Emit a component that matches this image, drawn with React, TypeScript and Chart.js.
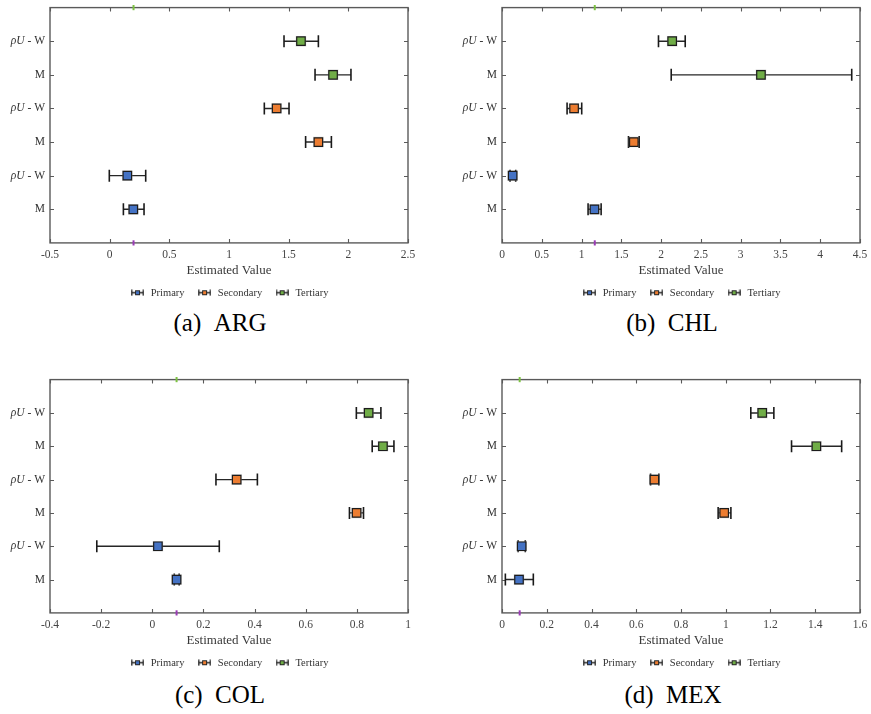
import React, { useEffect, useRef } from 'react';
import { Chart, registerables } from 'chart.js';

Chart.register(...registerables);

const FONT = "'Liberation Serif', 'Times New Roman', serif";

// ---- shared categories ----
const SERIES = ['Primary', 'Secondary', 'Tertiary'];
const SERIES_COLORS = ['#4472C4', '#ED7D31', '#70AD47'];
// rows from bottom to top
const ROW_LABELS = ['M', 'ρU - W', 'M', 'ρU - W', 'M', 'ρU - W'];
const ROW_SERIES = [0, 0, 1, 1, 2, 2];

// ---- ARG ----
const ARG_EST = [0.198, 0.148, 1.749, 1.399, 1.872, 1.603];
const ARG_LO = [0.115, -0.003, 1.642, 1.296, 1.721, 1.461];
const ARG_HI = [0.288, 0.302, 1.858, 1.503, 2.022, 1.749];
const ARG_REF = 0.2;
const ARG_AXIS = [-0.5, 2.5, 0.5];

// ---- CHL ----
const CHL_EST = [1.162, 0.134, 1.657, 0.906, 3.255, 2.139];
const CHL_LO = [1.082, 0.101, 1.59, 0.818, 2.127, 1.967];
const CHL_HI = [1.246, 0.172, 1.724, 1.002, 4.396, 2.303];
const CHL_REF = 1.166;
const CHL_AXIS = [0, 4.5, 0.5];

// ---- COL ----
const COL_EST = [0.095, 0.022, 0.799, 0.33, 0.902, 0.846];
const COL_LO = [0.086, -0.217, 0.771, 0.249, 0.86, 0.798];
const COL_HI = [0.105, 0.262, 0.826, 0.411, 0.945, 0.894];
const COL_REF = 0.095;
const COL_AXIS = [-0.4, 1, 0.2];

// ---- MEX ----
const MEX_EST = [0.076, 0.088, 0.993, 0.681, 1.405, 1.163];
const MEX_LO = [0.015, 0.072, 0.966, 0.664, 1.294, 1.112];
const MEX_HI = [0.14, 0.104, 1.023, 0.701, 1.518, 1.215];
const MEX_REF = 0.079;
const MEX_AXIS = [0, 1.6, 0.2];

const FRAME_COLOR = '#5a5a5a';
const BAR_COLOR = '#262626';

function makeIcon(color: string) {
  const c = document.createElement('canvas');
  c.width = 13;
  c.height = 7;
  const g = c.getContext('2d')!;
  g.strokeStyle = BAR_COLOR;
  g.lineWidth = 1.3;
  g.beginPath();
  g.moveTo(0.6, 3.5);
  g.lineTo(12.4, 3.5);
  g.moveTo(0.8, 0.5);
  g.lineTo(0.8, 6.5);
  g.moveTo(12.2, 0.5);
  g.lineTo(12.2, 6.5);
  g.stroke();
  g.fillStyle = color;
  g.fillRect(4.5, 1.5, 4, 4);
  g.lineWidth = 1;
  g.strokeRect(4.5, 1.5, 4, 4);
  return c;
}

function fmtTick(v: any) {
  let n = Math.round(Number(v) * 1000) / 1000;
  if (Math.abs(n) < 1e-9) n = 0;
  return String(n);
}

const framePlugin = {
  id: 'frameTicks',
  beforeDatasetsDraw(chart: any) {
    const { ctx, chartArea, scales } = chart;
    const { left, right, top, bottom } = chartArea;
    ctx.save();
    ctx.strokeStyle = FRAME_COLOR;
    ctx.lineWidth = 1.4;
    ctx.strokeRect(left, top, right - left, bottom - top);
    ctx.lineWidth = 1.1;
    ctx.beginPath();
    const xs = scales.x;
    xs.ticks.forEach((t: any) => {
      const px = Math.round(xs.getPixelForValue(t.value)) + 0.5;
      ctx.moveTo(px, bottom);
      ctx.lineTo(px, bottom - 4);
      ctx.moveTo(px, top);
      ctx.lineTo(px, top + 4);
    });
    const ys = scales.y;
    ROW_LABELS.forEach((_, i) => {
      const py = Math.round(ys.getPixelForValue(i + 1)) + 0.5;
      ctx.moveTo(left, py);
      ctx.lineTo(left + 4, py);
      ctx.moveTo(right, py);
      ctx.lineTo(right - 4, py);
    });
    ctx.stroke();

    // row labels
    ctx.fillStyle = '#333333';
    ctx.textBaseline = 'middle';
    ctx.textAlign = 'left';
    ROW_LABELS.forEach((lab, i) => {
      const py = ys.getPixelForValue(i + 1);
      const xEnd = left - 5;
      if (lab.startsWith('ρU')) {
        const rest = lab.slice(2);
        ctx.font = `italic 11.5px ${FONT}`;
        const w1 = ctx.measureText('ρU').width;
        ctx.font = `11.5px ${FONT}`;
        const w2 = ctx.measureText(rest).width;
        const x0 = xEnd - w1 - w2;
        ctx.font = `italic 11.5px ${FONT}`;
        ctx.fillText('ρU', x0, py);
        ctx.font = `11.5px ${FONT}`;
        ctx.fillText(rest, x0 + w1, py);
      } else {
        ctx.font = `11.5px ${FONT}`;
        const w = ctx.measureText(lab).width;
        ctx.fillText(lab, xEnd - w, py);
      }
    });
    ctx.restore();
  },
};

type PanelProps = {
  est: number[];
  lo: number[];
  hi: number[];
  refVal: number;
  axis: number[];
  left: number;
  top: number;
  width: number;
  height: number;
  padLeft: number;
  padRight: number;
};

function Panel(p: PanelProps) {
  const ref = useRef<HTMLCanvasElement>(null);
  useEffect(() => {
    if (!ref.current) return;
    const icons = SERIES_COLORS.map(makeIcon);
    const datasets: any[] = [];
    SERIES.forEach((name, s) => {
      const pts: any[] = [];
      ROW_SERIES.forEach((rs, i) => {
        if (rs === s) pts.push({ x: p.est[i], y: i + 1 });
      });
      datasets.push({
        type: 'scatter',
        label: name,
        data: pts,
        pointStyle: 'rect',
        pointRadius: 6,
        pointHoverRadius: 6,
        backgroundColor: SERIES_COLORS[s],
        borderColor: '#1c1c1c',
        borderWidth: 1.2,
        order: 0,
      });
    });
    // soft halo behind the squares
    datasets.push({
      type: 'scatter',
      label: '',
      data: p.est.map((v, i) => ({ x: v, y: i + 1 })),
      pointStyle: 'rect',
      pointRadius: 7.4,
      pointHoverRadius: 7.4,
      backgroundColor: 'rgba(150,150,150,0.45)',
      borderWidth: 0,
      order: 1,
    });
    p.est.forEach((_, i) => {
      datasets.push({
        type: 'line',
        label: '',
        data: [
          { x: p.lo[i], y: i + 1 },
          { x: p.hi[i], y: i + 1 },
        ],
        borderColor: BAR_COLOR,
        borderWidth: 1.4,
        pointStyle: 'line',
        pointRotation: 90,
        pointRadius: 6,
        pointHoverRadius: 6,
        pointBorderWidth: 1.6,
        pointBorderColor: '#1a1a1a',
        fill: false,
        order: 2,
      });
    });
    datasets.push({
      type: 'scatter',
      label: '',
      data: [{ x: p.refVal, y: 7 }],
      pointStyle: 'line',
      pointRotation: 90,
      pointRadius: 2.6,
      borderColor: '#7cc242',
      borderWidth: 2,
      clip: false,
      order: 3,
    });
    datasets.push({
      type: 'scatter',
      label: '',
      data: [{ x: p.refVal, y: 0 }],
      pointStyle: 'line',
      pointRotation: 90,
      pointRadius: 2.6,
      borderColor: '#9a3bb5',
      borderWidth: 2,
      clip: false,
      order: 3,
    });

    const chart = new Chart(ref.current, {
      type: 'scatter',
      data: { datasets },
      options: {
        animation: false,
        responsive: false,
        events: [],
        layout: { padding: { left: p.padLeft, right: p.padRight, top: 7, bottom: 0 } },
        scales: {
          x: {
            type: 'linear',
            min: p.axis[0],
            max: p.axis[1],
            ticks: {
              stepSize: p.axis[2],
              padding: 6,
              color: '#444444',
              font: { family: FONT, size: 11.5, lineHeight: 1.0 },
              callback: fmtTick,
            },
            grid: { display: false, drawTicks: false },
            border: { display: false },
            title: {
              display: true,
              text: 'Estimated Value',
              color: '#383838',
              font: { family: FONT, size: 13, lineHeight: 0.7 },
              padding: { top: 0, bottom: 0 },
            },
          },
          y: {
            type: 'linear',
            min: 0,
            max: 7,
            display: false,
          },
        },
        plugins: {
          tooltip: { enabled: false },
          title: { display: false },
          legend: {
            display: true,
            position: 'bottom',
            labels: {
              usePointStyle: true,
              pointStyleWidth: 16,
              padding: 12,
              color: '#333333',
              font: { family: FONT, size: 10.5 },
              generateLabels: () =>
                SERIES.map((name, s) => ({
                  text: name,
                  pointStyle: icons[s],
                  fillStyle: SERIES_COLORS[s],
                  strokeStyle: BAR_COLOR,
                  lineWidth: 0,
                  hidden: false,
                  datasetIndex: s,
                  fontColor: '#333333',
                })),
            },
          },
        },
      } as any,
      plugins: [framePlugin],
    });
    return () => chart.destroy();
  }, []);
  return (
    <canvas
      ref={ref}
      width={p.width}
      height={p.height}
      style={{ position: 'absolute', left: p.left, top: p.top, width: p.width, height: p.height, display: 'block' }}
    />
  );
}

function Caption({ text, cx, cy }: { text: string; cx: number; cy: number }) {
  return (
    <div
      style={{
        position: 'absolute',
        left: cx - 120,
        top: cy - 14,
        width: 240,
        height: 28,
        lineHeight: '28px',
        textAlign: 'center',
        fontFamily: FONT,
        fontSize: 25,
        color: '#000',
        whiteSpace: 'pre',
      }}
    >
      {text}
    </div>
  );
}

export default function App() {
  return (
    <div style={{ position: 'absolute', left: 0, top: 0, width: 871, height: 714, background: '#fff', overflow: 'hidden' }}>
      <Panel est={ARG_EST} lo={ARG_LO} hi={ARG_HI} refVal={ARG_REF} axis={ARG_AXIS} left={0} top={0} width={435} height={308} padLeft={50} padRight={27} />
      <Panel est={CHL_EST} lo={CHL_LO} hi={CHL_HI} refVal={CHL_REF} axis={CHL_AXIS} left={435} top={0} width={446} height={308} padLeft={67} padRight={21} />
      <Panel est={COL_EST} lo={COL_LO} hi={COL_HI} refVal={COL_REF} axis={COL_AXIS} left={0} top={372} width={435} height={306} padLeft={50} padRight={27} />
      <Panel est={MEX_EST} lo={MEX_LO} hi={MEX_HI} refVal={MEX_REF} axis={MEX_AXIS} left={435} top={372} width={446} height={306} padLeft={67} padRight={21} />
      <Caption text={'(a)\u2002ARG'} cx={220} cy={323} />
      <Caption text={'(b)\u2002CHL'} cx={672} cy={323} />
      <Caption text={'(c)\u2002COL'} cx={220} cy={695} />
      <Caption text={'(d)\u2002MEX'} cx={673} cy={695} />
    </div>
  );
}
